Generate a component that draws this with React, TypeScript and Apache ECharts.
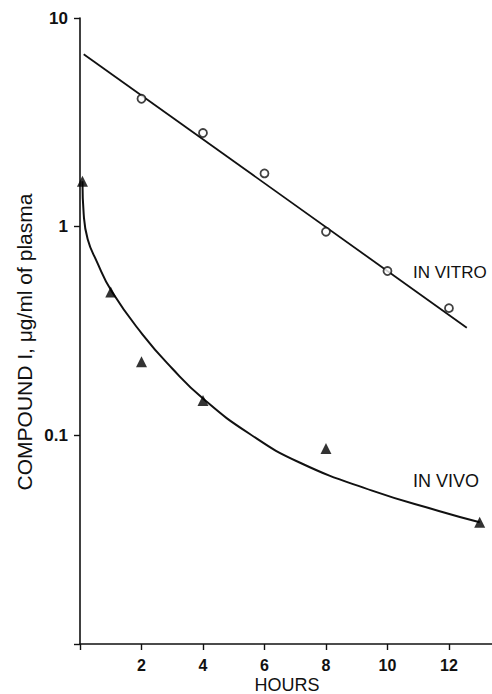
import React, { useEffect, useRef } from "react";
import * as echarts from "echarts";

// In vitro measurements (hours, µg/ml)
const vitroHours = [2, 4, 6, 8, 10, 12];
const vitroValues = [4.1, 2.81, 1.8, 0.946, 0.613, 0.407];
// In vitro fitted line end points
const vitroFitHours = [0.12, 12.58];
const vitroFitValues = [6.71, 0.328];

// In vivo measurements
const vivoHours = [0.08, 1, 2, 4, 8, 13];
const vivoValues = [1.65, 0.486, 0.225, 0.147, 0.0865, 0.0383];
// In vivo fitted curve
const vivoFitHours = [0.08, 0.12, 0.25, 0.54, 1.03, 2.03, 3, 4, 5.5, 7.14, 9.5, 11.67, 13];
const vivoFitValues = [1.65, 1.15, 0.87, 0.684, 0.49, 0.305, 0.209, 0.15, 0.102, 0.0741, 0.0543, 0.0434, 0.0383];

const xTicks = [2, 4, 6, 8, 10, 12];
const yTickLabels = ["10", "1", "0.1"];

const zip = (a: number[], b: number[]) => a.map((v, i) => [v, b[i]]);

const FONT = "'Liberation Sans', Arial, Helvetica, sans-serif";
const INK = "#111";

export default function App() {
  const ref = useRef<HTMLDivElement>(null);
  useEffect(() => {
    if (!ref.current) return;
    const chart = echarts.init(ref.current, undefined, { renderer: "svg" });
    chart.setOption({
      animation: false,
      backgroundColor: "#fff",
      grid: { left: 80, top: 18, right: 0, bottom: 50, outerBoundsMode: "none" },
      xAxis: {
        type: "value",
        min: 0,
        max: 13.4,
        interval: 2,
        axisLine: { lineStyle: { color: INK, width: 1.6 } },
        axisTick: { show: true, length: 6, lineStyle: { color: INK, width: 1.4 } },
        axisLabel: {
          margin: 13,
          fontFamily: FONT,
          fontSize: 16,
          lineHeight: 16,
          fontWeight: "bold",
          color: INK,
          showMaxLabel: false,
          formatter: (v: number) => (xTicks.indexOf(v) >= 0 ? String(v) : ""),
        },
        splitLine: { show: false },
      },
      yAxis: {
        type: "log",
        logBase: 10,
        min: 0.01,
        max: 10,
        axisLine: { show: true, lineStyle: { color: INK, width: 1.6 } },
        axisTick: { show: true, length: 6, lineStyle: { color: INK, width: 1.4 } },
        minorTick: { show: false },
        axisLabel: {
          margin: 12,
          fontFamily: FONT,
          fontSize: 17,
          fontWeight: "bold",
          color: INK,
          formatter: (v: number) => {
            const s = v >= 1 ? String(Math.round(v)) : String(Number(v.toPrecision(1)));
            return yTickLabels.indexOf(s) >= 0 ? s : "";
          },
        },
        splitLine: { show: false },
      },
      series: [
        {
          type: "line",
          data: zip(vitroFitHours, vitroFitValues),
          symbol: "none",
          lineStyle: { color: INK, width: 1.8 },
          z: 2,
        },
        {
          type: "scatter",
          data: zip(vitroHours, vitroValues),
          symbol: "circle",
          symbolSize: 8,
          itemStyle: { color: "#fff", borderColor: INK, borderWidth: 1.8 },
          z: 3,
        },
        {
          type: "line",
          data: zip(vivoFitHours, vivoFitValues),
          symbol: "none",
          smooth: 0.5,
          lineStyle: { color: INK, width: 2 },
          z: 2,
        },
        {
          type: "scatter",
          data: zip(vivoHours, vivoValues),
          symbol: "triangle",
          symbolSize: 11,
          itemStyle: { color: "#000" },
          z: 3,
        },
      ],
      graphic: [
        {
          type: "text",
          x: 24,
          y: 342,
          rotation: Math.PI / 2,
          style: {
            text: "COMPOUND I, \u03bcg/ml of plasma",
            fontFamily: FONT,
            fontSize: 21,
            fill: INK,
            textAlign: "center",
            textVerticalAlign: "middle",
          },
        },
        {
          type: "text",
          x: 287,
          y: 685,
          style: {
            text: "HOURS",
            fontFamily: FONT,
            fontSize: 18,
            fill: INK,
            textAlign: "center",
            textVerticalAlign: "middle",
          },
        },
        {
          type: "text",
          x: 413,
          y: 272,
          style: {
            text: "IN VITRO",
            fontFamily: FONT,
            fontSize: 17,
            fill: INK,
            textAlign: "left",
            textVerticalAlign: "middle",
          },
        },
        {
          type: "text",
          x: 413,
          y: 481,
          style: {
            text: "IN VIVO",
            fontFamily: FONT,
            fontSize: 18,
            fill: INK,
            textAlign: "left",
            textVerticalAlign: "middle",
          },
        },
      ],
    });
    return () => chart.dispose();
  }, []);
  return (
    <div
      ref={ref}
      style={{ position: "fixed", left: 0, top: 0, width: 492, height: 694 }}
    />
  );
}
